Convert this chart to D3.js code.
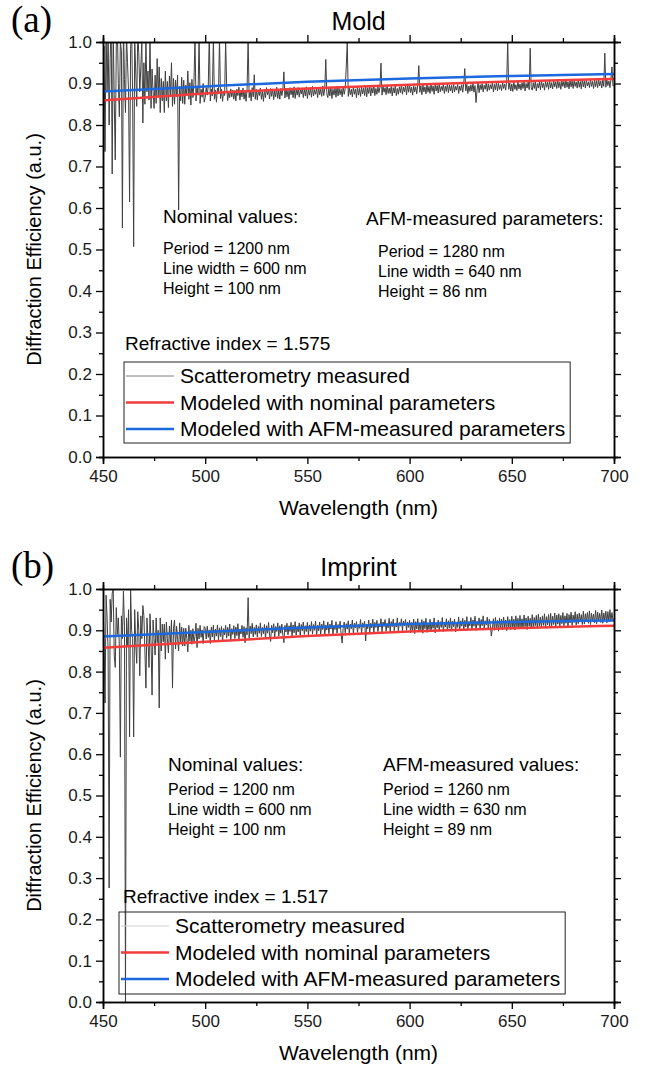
<!DOCTYPE html>
<html>
<head>
<meta charset="utf-8">
<script src="https://cdn.jsdelivr.net/npm/d3@7"></script>
<style>
  body { margin: 0; background: #fff; }
  svg { display: block; font-family: "Liberation Sans", Arial, sans-serif; }
</style>
</head>
<body>
<svg id="chart" width="645" height="1070"></svg>
<script>
'use strict';

// Data
// ----
// spectrometer grid, 0.5 nm
var wavelengths = d3.range(450, 700.25, 0.5)

// measured efficiency, in units of 0.001 (one row = 5 nm)
var measuredMold = [
  930, 990, 736, 1030, 880, 1020, 800, 960, 1040, 682,
  1030, 860, 716, 990, 1040, 900, 820, 1000, 980, 552,
  1040, 910, 830, 1020, 950, 880, 615, 985, 1030, 870,
  507, 1010, 930, 845, 1020, 975, 880, 940, 1000, 805,
  950, 850, 1010, 880, 930, 860, 1010, 840, 935, 880,
  840, 920, 852, 960, 870, 940, 830, 912, 858, 905,
  830, 930, 858, 905, 842, 918, 870, 950, 845, 912,
  850, 908, 868, 920, 595, 893, 858, 915, 852, 908,
  850, 896, 872, 930, 862, 902, 848, 910, 866, 902,
  1010, 858, 893, 872, 1010, 852, 886, 867, 900, 855,
  866, 890, 872, 895, 1020, 858, 887, 870, 1010, 862,
  884, 855, 889, 875, 1010, 864, 886, 857, 882, 871,
  1005, 891, 859, 880, 866, 887, 868, 884, 862, 883,
  858, 886, 871, 891, 860, 884, 868, 889, 862, 881,
  857, 887, 1010, 866, 883, 858, 890, 868, 921, 862,
  886, 860, 884, 871, 889, 862, 881, 857, 885, 866,
  890, 873, 884, 863, 888, 869, 887, 861, 882, 868,
  891, 864, 885, 862, 888, 871, 886, 928, 865, 889,
  868, 884, 862, 890, 873, 887, 866, 892, 864, 886,
  872, 890, 867, 885, 875, 889, 866, 887, 870, 892,
  864, 886, 872, 890, 867, 893, 870, 885, 874, 889,
  866, 891, 873, 886, 869, 894, 871, 888, 958, 875,
  866, 887, 870, 892, 864, 886, 872, 890, 867, 893,
  870, 889, 873, 886, 868, 892, 874, 887, 940, 1000,
  869, 889, 873, 886, 868, 892, 874, 887, 866, 893,
  872, 888, 869, 891, 875, 889, 871, 894, 868, 890,
  876, 893, 870, 890, 877, 895, 871, 888, 874, 892,
  878, 891, 949, 872, 894, 879, 890, 873, 896, 876,
  889, 876, 893, 870, 890, 877, 895, 871, 888, 874,
  892, 878, 896, 874, 891, 880, 894, 873, 897, 879,
  896, 878, 891, 872, 894, 880, 892, 875, 898, 943,
  879, 894, 873, 897, 880, 892, 875, 898, 879, 893,
  876, 899, 881, 894, 874, 897, 882, 895, 877, 900,
  880, 893, 883, 898, 876, 894, 881, 899, 878, 896,
  882, 895, 877, 900, 880, 893, 884, 898, 876, 894,
  883, 897, 879, 901, 936, 882, 898, 876, 894, 881,
  897, 882, 901, 879, 895, 854, 884, 902, 878, 897,
  885, 900, 880, 896, 886, 903, 881, 899, 884, 897,
  887, 902, 880, 898, 885, 904, 882, 900, 886, 897,
  883, 903, 888, 899, 884, 905, 1000, 886, 901, 882,
  899, 881, 904, 886, 897, 883, 905, 887, 899, 884,
  902, 888, 906, 882, 900, 889, 904, 885, 985, 890,
  884, 902, 888, 906, 882, 900, 889, 904, 885, 907,
  890, 901, 884, 905, 891, 903, 886, 908, 889, 902,
  887, 906, 892, 904, 888, 909, 890, 903, 886, 907,
  893, 905, 889, 910, 891, 904, 887, 908, 892, 906,
  888, 907, 893, 904, 889, 909, 891, 905, 887, 910,
  892, 906, 889, 908, 894, 904, 890, 911, 893, 905,
  888, 909, 892, 907, 890, 910, 894, 906, 889, 908,
  893, 973, 891, 909, 895, 906, 890, 910, 940, 894,
  895
]

var measuredImprint = [
  960, 880, 724, 985, 930, 850, 276, 975, 920, 990,
  998, 840, 810, 955, 890, 930, 860, 593, 935, 880,
  995, 910, 0, 930, 860, 950, 642, 998, 900, 880,
  642, 950, 870, 820, 945, 900, 790, 935, 880, 960,
  935, 850, 760, 930, 880, 810, 940, 870, 743, 925,
  880, 840, 930, 870, 900, 712, 930, 850, 915, 872,
  915, 830, 920, 880, 845, 910, 870, 925, 760, 905,
  925, 855, 910, 878, 850, 918, 870, 908, 862, 905,
  862, 905, 880, 848, 912, 874, 900, 866, 904, 870,
  885, 917, 858, 905, 879, 912, 883, 901, 868, 909,
  905, 879, 910, 883, 901, 868, 908, 884, 912, 876,
  903, 886, 913, 877, 906, 885, 909, 872, 904, 889,
  912, 881, 907, 886, 915, 876, 904, 890, 911, 880,
  908, 887, 916, 878, 903, 891, 912, 883, 909, 870,
  906, 889, 979, 881, 910, 892, 917, 884, 907, 890,
  913, 884, 909, 893, 918, 885, 907, 892, 914, 880,
  911, 893, 919, 887, 873, 912, 894, 916, 884, 909,
  897, 918, 886, 911, 893, 915, 887, 870, 912, 896,
  917, 889, 911, 897, 919, 886, 913, 894, 921, 888,
  910, 896, 918, 887, 914, 899, 920, 890, 911, 897,
  919, 889, 913, 898, 921, 891, 914, 900, 922, 888,
  912, 899, 920, 890, 915, 902, 923, 889, 913, 901,
  920, 892, 915, 903, 924, 891, 912, 902, 921, 893,
  914, 904, 922, 890, 869, 905, 920, 894, 916, 903,
  923, 893, 915, 904, 925, 892, 917, 906, 921, 895,
  914, 905, 926, 893, 918, 907, 922, 874, 915, 904,
  925, 896, 917, 906, 927, 895, 919, 907, 924, 897,
  916, 908, 928, 896, 920, 909, 926, 898, 917, 906,
  929, 897, 921, 909, 927, 899, 918, 908, 930, 898,
  919, 910, 928, 899, 922, 911, 926, 900, 920, 907,
  924, 894, 919, 900, 927, 892, 921, 903, 928, 896,
  918, 901, 926, 893, 922, 904, 929, 895, 917, 902,
  927, 896, 920, 905, 930, 894, 918, 906, 925, 898,
  921, 907, 931, 897, 919, 908, 928, 899, 923, 905,
  930, 898, 922, 909, 927, 896, 920, 907, 932, 900,
  923, 910, 929, 899, 924, 908, 933, 901, 921, 911,
  931, 902, 925, 910, 934, 900, 922, 912, 930, 903,
  926, 911, 935, 904, 923, 913, 932, 902, 927, 912,
  886, 905, 928, 900, 931, 903, 924, 898, 930, 904,
  927, 901, 932, 906, 925, 899, 933, 907, 926, 902,
  934, 905, 927, 901, 935, 908, 929, 903, 936, 906,
  928, 904, 937, 909, 930, 902, 934, 910, 929, 905,
  938, 907, 931, 911, 936, 904, 939, 910, 932, 908,
  935, 912, 940, 906, 933, 913, 938, 909, 941, 911,
  934, 914, 942, 908, 937, 915, 940, 910, 936, 916,
  943, 911, 935, 917, 941, 909, 938, 918, 944, 912,
  937, 919, 945, 913, 939, 916, 942, 920, 938, 914,
  946, 915, 940, 921, 943, 917, 947, 914, 941, 922,
  939, 918, 948, 916, 944, 923, 941, 919, 949, 917,
  942, 924, 946, 918, 945, 920, 950, 922, 943, 925,
  928
]

// modeled curves, read every 50 nm
var modelWl = [450, 500, 550, 600, 650, 700]
var nominalMold = [0.859, 0.876, 0.888, 0.897, 0.905, 0.911]
var afmMold = [0.881, 0.893, 0.904, 0.912, 0.918, 0.923]
var nominalImprint = [0.858, 0.872, 0.886, 0.897, 0.905, 0.911]
var afmImprint = [0.885, 0.896, 0.907, 0.915, 0.920, 0.924]

var xTicks = [450, 500, 550, 600, 650, 700]
var xMinor = [475, 525, 575, 625, 675]
var yTicks = [0, 0.1, 0.2, 0.3, 0.4, 0.5, 0.6, 0.7, 0.8, 0.9, 1.0]
var yMinor = [0.05, 0.15, 0.25, 0.35, 0.45, 0.55, 0.65, 0.75, 0.85, 0.95]

var legendLabels = ['Scatterometry measured', 'Modeled with nominal parameters', 'Modeled with AFM-measured parameters']

var nominalText = ['Period = 1200 nm', 'Line width = 600 nm', 'Height = 100 nm']
var afmTextMold = ['Period = 1280 nm', 'Line width = 640 nm', 'Height = 86 nm']
var afmTextImprint = ['Period = 1260 nm', 'Line width = 630 nm', 'Height = 89 nm']

var RED = '#f23b3b'
var BLUE = '#1c68df'
var GREY = '#404040'

var panels = [
  {
    id: 'a', tag: '(a)', title: 'Mold', top: 42, bottom: 457, tagY: 32, titleY: 30,
    measured: measuredMold, nominal: nominalMold, afm: afmMold,
    nomHead: {x: 163, y: 223}, nomLines: {x: 163, y: 254},
    afmHead: {x: 366, y: 225, text: 'AFM-measured parameters:'}, afmLines: {x: 378, y: 257}, afmText: afmTextMold,
    refr: {x: 125, y: 350, text: 'Refractive index = 1.575'},
    legend: {x: 124, y: 362, h: 81, sample: '#808080', fill: '#fff'}
  },
  {
    id: 'b', tag: '(b)', title: 'Imprint', top: 589, bottom: 1002, tagY: 578, titleY: 576,
    measured: measuredImprint, nominal: nominalImprint, afm: afmImprint,
    nomHead: {x: 168, y: 771}, nomLines: {x: 168, y: 795},
    afmHead: {x: 383, y: 771, text: 'AFM-measured values:'}, afmLines: {x: 383, y: 795}, afmText: afmTextImprint,
    refr: {x: 123, y: 903, text: 'Refractive index = 1.517'},
    legend: {x: 119, y: 912, h: 82, sample: '#cfcfcf', fill: 'none'}
  }
]

var left = 103, right = 614

var svg = d3.select('#chart')

var x = d3.scaleLinear().domain([450, 700]).range([left, right])

panels.forEach(drawPanel)

function drawPanel(p) {
  var y = d3.scaleLinear().domain([0, 1]).range([p.bottom, p.top])
  var g = svg.append('g')

  g.append('clipPath').attr('id', 'clip-' + p.id)
    .append('rect')
      .attr('x', left).attr('y', p.top)
      .attr('width', right - left).attr('height', p.bottom - p.top)

  // measured spectrum
  var line = d3.line()
    .x(function(d, i){ return x(wavelengths[i]) })
    .y(function(d){ return y(d / 1000) })

  g.append('path')
    .datum(p.measured)
    .attr('clip-path', 'url(#clip-' + p.id + ')')
    .attr('d', line)
    .style('fill', 'none')
    .style('stroke', GREY)
    .style('stroke-width', 1)
    .style('stroke-linejoin', 'round')

  // modeled curves
  var model = d3.line()
    .x(function(d, i){ return x(modelWl[i]) })
    .y(function(d){ return y(d) })
    .curve(d3.curveMonotoneX)

  g.append('path').datum(p.nominal).attr('d', model)
    .style('fill', 'none').style('stroke', RED).style('stroke-width', 2.5)
  g.append('path').datum(p.afm).attr('d', model)
    .style('fill', 'none').style('stroke', BLUE).style('stroke-width', 2.5)

  // Axes
  // ----
  var bottomAxis = d3.axisBottom(x).tickValues(xTicks).tickSize(7).tickPadding(6).tickFormat(d3.format('d'))
  var bottomMinor = d3.axisBottom(x).tickValues(xMinor).tickSize(4).tickFormat('')
  var topAxis = d3.axisTop(x).tickValues(xTicks).tickSize(7).tickFormat('')
  var topMinor = d3.axisTop(x).tickValues(xMinor).tickSize(4).tickFormat('')
  var leftAxis = d3.axisLeft(y).tickValues(yTicks).tickSize(7).tickPadding(4).tickFormat(d3.format('.1f'))
  var leftMinor = d3.axisLeft(y).tickValues(yMinor).tickSize(4).tickFormat('')
  var rightAxis = d3.axisRight(y).tickValues(yTicks).tickSize(7).tickFormat('')
  var rightMinor = d3.axisRight(y).tickValues(yMinor).tickSize(4).tickFormat('')

  function put(axis, tx, ty) {
    var a = g.append('g').attr('transform', 'translate(' + tx + ',' + ty + ')').call(axis)
    a.select('.domain').style('stroke', '#000').style('stroke-width', 1.5)
    a.selectAll('.tick line').style('stroke', '#000').style('stroke-width', 1.3)
    a.selectAll('.tick text').style('font-size', '17px').style('fill', '#1a1a1a')
      .style('font-family', '"Liberation Sans", Arial, sans-serif')
    return a
  }

  put(bottomMinor, 0, p.bottom)
  put(bottomAxis, 0, p.bottom)
  put(topMinor, 0, p.top)
  put(topAxis, 0, p.top)
  put(leftMinor, left, 0)
  put(leftAxis, left, 0)
  put(rightMinor, right, 0)
  put(rightAxis, right, 0)

  // Titles
  g.append('text')
    .attr('x', (left + right) / 2).attr('y', p.bottom + 58)
    .attr('text-anchor', 'middle')
    .style('font-size', '21px')
    .text('Wavelength (nm)')

  g.append('text')
    .attr('transform', 'translate(41,' + ((p.top + p.bottom) / 2) + ') rotate(-90)')
    .attr('text-anchor', 'middle')
    .style('font-size', '20px')
    .text('Diffraction Efficiency (a.u.)')

  g.append('text')
    .attr('x', (left + right) / 2).attr('y', p.titleY)
    .attr('text-anchor', 'middle')
    .style('font-size', '25px')
    .text(p.title)

  g.append('text')
    .attr('x', 11).attr('y', p.tagY)
    .style('font-family', '"Liberation Serif", "Times New Roman", serif')
    .style('font-size', '37px')
    .text(p.tag)

  // Annotations
  g.append('text').attr('x', p.nomHead.x).attr('y', p.nomHead.y)
    .style('font-size', '19px').text('Nominal values:')
  nominalText.forEach(function(t, i){
    g.append('text').attr('x', p.nomLines.x).attr('y', p.nomLines.y + i * 20)
      .style('font-size', '16px').text(t)
  })
  g.append('text').attr('x', p.afmHead.x).attr('y', p.afmHead.y)
    .style('font-size', '19px').text(p.afmHead.text)
  p.afmText.forEach(function(t, i){
    g.append('text').attr('x', p.afmLines.x).attr('y', p.afmLines.y + i * 20)
      .style('font-size', '16px').text(t)
  })
  g.append('text').attr('x', p.refr.x).attr('y', p.refr.y)
    .style('font-size', '19px').text(p.refr.text)

  // Legend
  var lg = g.append('g').attr('transform', 'translate(' + p.legend.x + ',' + p.legend.y + ')')
  var box = lg.append('rect')
    .attr('height', p.legend.h)
    .style('fill', p.legend.fill)
    .style('stroke', '#222').style('stroke-width', 1)
  var colors = [p.legend.sample, RED, BLUE]
  var widths = [1, 2.5, 2.5]
  var maxW = 0
  legendLabels.forEach(function(label, i){
    var cy = 14 + i * 26.5
    lg.append('line')
      .attr('x1', 2).attr('x2', 50).attr('y1', cy).attr('y2', cy)
      .style('stroke', colors[i]).style('stroke-width', widths[i])
    var t = lg.append('text')
      .attr('x', 56).attr('y', cy + 7)
      .style('font-size', '21px')
      .text(label)
    maxW = Math.max(maxW, t.node().getComputedTextLength())
  })
  box.attr('width', 56 + maxW + 5)
}
</script>
</body>
</html>
